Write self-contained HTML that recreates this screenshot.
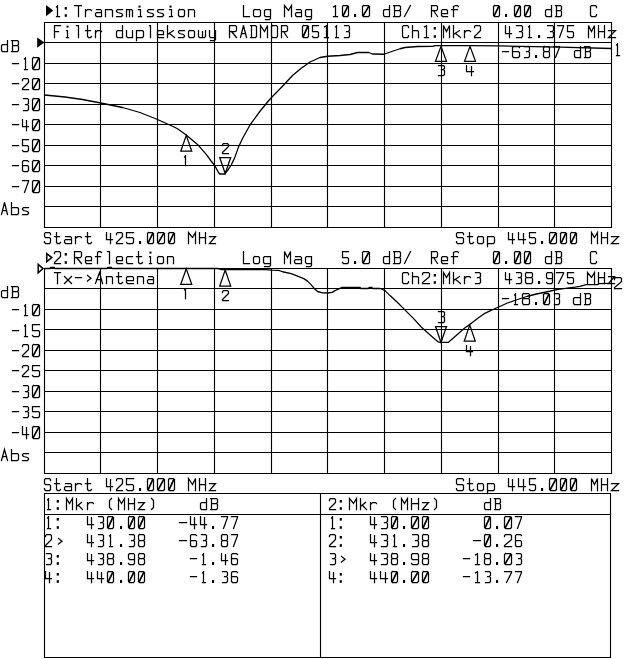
<!DOCTYPE html>
<html><head><meta charset="utf-8"><title>Network analyzer plot</title>
<style>
html,body{margin:0;padding:0;background:#fff}
body{width:640px;height:659px;overflow:hidden;font-family:"Liberation Mono",monospace}
svg{display:block}
.g{fill:none;stroke:#000;stroke-width:1.12}
.t{fill:none;stroke:#000;stroke-width:1.3;stroke-linejoin:round}
.m{fill:none;stroke:#000;stroke-width:1.25;stroke-linejoin:miter}
.s{fill:none;stroke:#000;stroke-width:1.25;stroke-linecap:square;stroke-linejoin:miter}
.h{fill:none;stroke:#000;stroke-width:1.5;stroke-linejoin:miter}
.z{fill:none;stroke:#000;stroke-width:1.7;stroke-linecap:butt}
.f{fill:#000;stroke:none}
.x text{font-family:"Liberation Mono",monospace;font-size:17px;fill:#000;fill-opacity:0;stroke:none}
</style></head><body>
<svg width="640" height="659" viewBox="0 0 640 659">
<rect width="640" height="659" fill="#fff"/>
<path class="g" d="M44.0 22.5 H612.0 M44.0 42.5 H612.0 M44.0 63.5 H612.0 M44.0 83.5 H612.0 M44.0 104.5 H612.0 M44.0 124.5 H612.0 M44.0 145.5 H612.0 M44.0 165.5 H612.0 M44.0 186.5 H612.0 M44.0 206.5 H612.0 M44.0 227.5 H612.0 M44.5 22.0 V228.0 M100.5 22.0 V228.0 M157.5 22.0 V228.0 M214.5 22.0 V228.0 M271.5 22.0 V228.0 M327.5 22.0 V228.0 M384.5 22.0 V228.0 M441.5 22.0 V228.0 M498.5 22.0 V228.0 M554.5 22.0 V228.0 M611.5 22.0 V228.0 M44.0 268.5 H612.0 M44.0 288.5 H612.0 M44.0 309.5 H612.0 M44.0 329.5 H612.0 M44.0 350.5 H612.0 M44.0 370.5 H612.0 M44.0 391.5 H612.0 M44.0 411.5 H612.0 M44.0 432.5 H612.0 M44.0 452.5 H612.0 M44.0 473.5 H612.0 M44.5 268.0 V474.0 M100.5 268.0 V474.0 M157.5 268.0 V474.0 M214.5 268.0 V474.0 M271.5 268.0 V474.0 M327.5 268.0 V474.0 M384.5 268.0 V474.0 M441.5 268.0 V474.0 M498.5 268.0 V474.0 M554.5 268.0 V474.0 M611.5 268.0 V474.0 M44 493.5 H611 M44 514.5 H611 M44 657.5 H611 M44.5 493 V658 M320.5 493 V658 M610.5 493 V658"/>
<path class="t" d="M44.5 95 L65 97 L82.5 99.5 L100.75 103 L122.5 107.5 L140 112.5 L157.5 119.5 L172.5 126.25 L177.5 128.75 L186.25 135 L197.5 144.4 L206.25 154.4 L211.25 161.25 L214.75 165.5 L218.1 171.9 L219.75 174 L224.75 174 L227.5 170.6 L231.25 165 L235 156.9 L238.1 148.1 L242.5 138.5 L250 125 L260 111.25 L270.3 98.75 L282.5 86.25 L292.5 75.5 L301.25 68.25 L310 62 L320 57.5 L327.5 56.25 L340 55.5 L350 54.5 L357.5 52.5 L368.75 52.5 L372.5 54 L383.75 54.25 L392.5 51.25 L400 48.75 L405 47.5 L417.5 46.5 L433.5 46.4 L434.5 45.6 L470 45.6 L500 45.9 L560 47.2 L611.5 48.5"/>
<path class="t" d="M44.5 268.5 L50 268.5 L50.6 267.5 L54.4 267.5 L55 268.5 L107 268.5 L107.6 267.5 L111.4 267.5 L112 268.5 L218 268.5 L221.5 269.5 L262 269.5 L266.25 269.7 L271.25 270.2 L278.75 270.4 L282.5 271.75 L291.25 273.6 L297.5 276.1 L303.75 278.6 L307.5 281.1 L311.25 284.9 L315 289.25 L317.5 291.5 L322.5 292.8 L327.5 293 L332 292.4 L335 290.6 L338.75 289 L341.5 287.5 L360 287.5 L361 288.5 L368.4 288.5 L369 287.5 L372 287.5 L372.6 288.5 L380 288.5 L381.5 289 L385 290.6 L390 295.6 L397.8 302.8 L405.6 310.6 L413.4 318.4 L421.25 327 L429 334 L435.3 339.5 L438.4 341.9 L440 342.4 L448.2 342.4 L452.5 338.75 L458.75 333.3 L465 327.8 L469.7 324.6 L477.5 318.6 L483.75 313.9 L490 310.8 L497.5 307.5 L507.5 303 L517.5 299.5 L527.5 296.25 L537.5 293.75 L547.5 291.75 L554.5 290.2 L560 289.2 L567.5 288.1 L575 287.1 L580 286.3 L586.25 284.7 L598 284.5 L599 283.6 L611.5 283.4"/>
<path class="m" d="M186.25 135.4 L180.75 151.2 L191.75 151.2 Z M225.2 173.5 L219.7 157.5 L230.7 157.5 Z M441 46.4 L435.5 61.4 L446.5 61.4 Z M470 46.4 L464.5 61.4 L475.5 61.4 Z M186.25 268.8 L180.75 284.3 L191.75 284.3 Z M225.2 270 L219.7 286 L230.7 286 Z M441 342.5 L435.5 326.5 L446.5 326.5 Z M469.75 325.1 L464.25 341.1 L475.25 341.1 Z"/>
<path class="f" d="M46 5 L53.3 10.6 L46 16.2 Z"/>
<path class="f" d="M37.2 37.4 L44.4 42.5 L37.2 47.8 Z"/>
<path class="h" d="M46.8 253.6 L51.8 257.6 L46.8 261.6 Z"/>
<path class="h" d="M38.2 264.4 L43 268.6 L38.2 272.8 Z"/>
<path class="s" d="M56.5 6.9 L57.5 5.9 M57.5 5.5 L57.5 16.5 M56.5 16.5 L59.5 16.5 M74.5 5.5 L81.5 5.5 M78.5 5.5 L78.5 16.5 M85.5 9.5 L85.5 16.5 M85.5 11.5 L87.5 9.5 L90.5 9.5 L91.5 10.5 M96.5 9.5 L100.5 9.5 L101.5 10.5 L101.5 16.5 M101.5 12.5 L96.5 12.5 L95.5 13.5 L95.5 15.5 L96.5 16.5 L101.5 16.5 M105.5 16.5 L105.5 9.5 L111.5 9.5 L112.5 10.5 L112.5 16.5 M122.5 9.5 L117.5 9.5 L116.5 10.5 L116.5 11.5 L117.5 12.5 L121.5 13.5 L122.5 14.5 L122.5 15.5 L121.5 16.5 L116.5 16.5 M126.5 16.5 L126.5 9.5 L131.5 9.5 L132.5 10.5 L132.5 16.5 M129.5 9.5 L129.5 16.5 M138.5 9.5 L140.5 9.5 L140.5 16.5 M138.5 16.5 L141.5 16.5 M153.5 9.5 L148.5 9.5 L147.5 10.5 L147.5 11.5 L148.5 12.5 L152.5 13.5 L153.5 14.5 L153.5 15.5 L152.5 16.5 L147.5 16.5 M163.5 9.5 L158.5 9.5 L157.5 10.5 L157.5 11.5 L158.5 12.5 L162.5 13.5 L163.5 14.5 L163.5 15.5 L162.5 16.5 L157.5 16.5 M169.5 9.5 L171.5 9.5 L171.5 16.5 M169.5 16.5 L172.5 16.5 M179.5 9.5 L183.5 9.5 L184.5 10.5 L184.5 15.5 L183.5 16.5 L179.5 16.5 L178.5 15.5 L178.5 10.5 L179.5 9.5 M188.5 16.5 L188.5 9.5 L193.5 9.5 L194.5 10.5 L194.5 16.5 M243.5 5.5 L243.5 16.5 L249.5 16.5 M254.5 9.5 L259.5 9.5 L260.5 10.5 L260.5 15.5 L259.5 16.5 L254.5 16.5 L253.5 15.5 L253.5 10.5 L254.5 9.5 M270.5 9.5 L265.5 9.5 L264.5 10.5 L264.5 15.5 L265.5 16.5 L270.5 16.5 M270.5 9.5 L270.5 18.5 L269.5 19.5 L265.5 19.5 M284.5 16.5 L284.5 5.5 L288.5 10.5 L291.5 5.5 L291.5 16.5 M296.5 9.5 L300.5 9.5 L301.5 10.5 L301.5 16.5 M301.5 12.5 L296.5 12.5 L295.5 13.5 L295.5 15.5 L296.5 16.5 L301.5 16.5 M311.5 9.5 L306.5 9.5 L305.5 10.5 L305.5 15.5 L306.5 16.5 L311.5 16.5 M311.5 9.5 L311.5 18.5 L310.5 19.5 L306.5 19.5 M333.5 6.9 L335.5 5.9 M335.5 5.5 L335.5 16.5 M333.5 16.5 L337.5 16.5 M343.5 5.5 L347.5 5.5 L348.5 6.5 L348.5 15.5 L347.5 16.5 L343.5 16.5 L342.5 15.5 L342.5 6.5 L343.5 5.5 M363.5 5.5 L368.5 5.5 L369.5 6.5 L369.5 15.5 L368.5 16.5 L363.5 16.5 L362.5 15.5 L362.5 6.5 L363.5 5.5 M389.5 5.5 L389.5 16.5 M389.5 9.5 L384.5 9.5 L383.5 10.5 L383.5 15.5 L384.5 16.5 L389.5 16.5 M393.5 5.5 L399.5 5.5 L400.5 6.5 L400.5 9.5 L399.5 10.5 L394.5 10.5 M399.5 10.5 L400.5 11.5 L400.5 15.5 L399.5 16.5 L393.5 16.5 M394.5 5.5 L394.5 16.5 M404.5 16.5 L410.5 5.5 M431.5 16.5 L431.5 5.5 L436.5 5.5 L437.5 6.5 L437.5 9.5 L436.5 10.5 L431.5 10.5 M433.5 10.5 L437.5 16.5 M441.5 13.5 L447.5 13.5 L447.5 10.5 L446.5 9.5 L442.5 9.5 L441.5 10.5 L441.5 15.5 L442.5 16.5 L447.5 16.5 M458.5 6.5 L457.5 5.5 L455.5 5.5 L453.5 6.5 L453.5 16.5 M451.5 9.5 L457.5 9.5 M494.5 5.5 L498.5 5.5 L499.5 6.5 L499.5 15.5 L498.5 16.5 L494.5 16.5 L493.5 15.5 L493.5 6.5 L494.5 5.5 M515.5 5.5 L519.5 5.5 L520.5 6.5 L520.5 15.5 L519.5 16.5 L515.5 16.5 L514.5 15.5 L514.5 6.5 L515.5 5.5 M525.5 5.5 L529.5 5.5 L530.5 6.5 L530.5 15.5 L529.5 16.5 L525.5 16.5 L524.5 15.5 L524.5 6.5 L525.5 5.5 M551.5 5.5 L551.5 16.5 M551.5 9.5 L546.5 9.5 L545.5 10.5 L545.5 15.5 L546.5 16.5 L551.5 16.5 M555.5 5.5 L560.5 5.5 L561.5 6.5 L561.5 9.5 L560.5 10.5 L556.5 10.5 M560.5 10.5 L561.5 11.5 L561.5 15.5 L560.5 16.5 L555.5 16.5 M556.5 5.5 L556.5 16.5 M596.5 7.5 L596.5 6.5 L595.5 5.5 L591.5 5.5 L590.5 6.5 L590.5 15.5 L591.5 16.5 L595.5 16.5 L596.5 15.5 L596.5 14.5 M60.5 25.5 L54.5 25.5 L54.5 37.5 M54.5 31.5 L58.5 31.5 M66.5 30.5 L67.5 30.5 L67.5 37.5 M66.5 37.5 L68.5 37.5 M76.5 25.5 L78.5 25.5 L78.5 37.5 M87.5 25.5 L87.5 36.5 L88.5 37.5 L90.5 37.5 L91.5 36.5 M85.5 30.5 L90.5 30.5 M95.5 30.5 L95.5 37.5 M95.5 32.5 L97.5 30.5 L100.5 30.5 L101.5 31.5 M122.5 25.5 L122.5 37.5 M122.5 30.5 L117.5 30.5 L116.5 31.5 L116.5 36.5 L117.5 37.5 L122.5 37.5 M126.5 30.5 L126.5 36.5 L127.5 37.5 L132.5 37.5 M132.5 30.5 L132.5 37.5 M136.5 30.5 L136.5 40.5 M136.5 30.5 L142.5 30.5 L143.5 31.5 L143.5 36.5 L142.5 37.5 L136.5 37.5 M149.5 25.5 L150.5 25.5 L150.5 37.5 M157.5 34.5 L163.5 34.5 L163.5 31.5 L162.5 30.5 L158.5 30.5 L157.5 31.5 L157.5 36.5 L158.5 37.5 L163.5 37.5 M167.5 25.5 L167.5 37.5 M173.5 30.5 L167.5 34.5 M169.5 33.5 L174.5 37.5 M184.5 30.5 L179.5 30.5 L178.5 31.5 L178.5 32.5 L179.5 33.5 L183.5 34.5 L184.5 35.5 L184.5 36.5 L183.5 37.5 L178.5 37.5 M189.5 30.5 L193.5 30.5 L194.5 31.5 L194.5 36.5 L193.5 37.5 L189.5 37.5 L188.5 36.5 L188.5 31.5 L189.5 30.5 M198.5 30.5 L198.5 36.5 L199.5 37.5 L204.5 37.5 L205.5 36.5 L205.5 30.5 M202.5 31.5 L202.5 37.5 M209.5 30.5 L209.5 36.5 L210.5 37.5 L215.5 37.5 M215.5 30.5 L215.5 39.5 L214.5 40.5 L210.5 40.5 M229.5 37.5 L229.5 25.5 L235.5 25.5 L236.5 26.5 L236.5 30.5 L235.5 31.5 L229.5 31.5 M231.5 31.5 L236.5 37.5 M240.5 37.5 L243.5 25.5 L246.5 37.5 M241.5 33.5 L245.5 33.5 M250.5 25.5 L255.5 25.5 L256.5 26.5 L256.5 36.5 L255.5 37.5 L250.5 37.5 M251.5 25.5 L251.5 37.5 M260.5 37.5 L260.5 25.5 L264.5 31.5 L267.5 25.5 L267.5 37.5 M272.5 25.5 L276.5 25.5 L277.5 26.5 L277.5 36.5 L276.5 37.5 L272.5 37.5 L271.5 36.5 L271.5 26.5 L272.5 25.5 M281.5 37.5 L281.5 25.5 L286.5 25.5 L287.5 26.5 L287.5 30.5 L286.5 31.5 L281.5 31.5 M283.5 31.5 L287.5 37.5 M303.5 25.5 L307.5 25.5 L308.5 26.5 L308.5 36.5 L307.5 37.5 L303.5 37.5 L302.5 36.5 L302.5 26.5 L303.5 25.5 M318.5 25.5 L312.5 25.5 L312.5 31.5 L317.5 31.5 L318.5 32.5 L318.5 36.5 L317.5 37.5 L313.5 37.5 L312.5 36.5 M324.5 26.9 L326.5 25.9 M326.5 25.5 L326.5 37.5 M324.5 37.5 L328.5 37.5 M335.5 26.9 L336.5 25.9 M336.5 25.5 L336.5 37.5 M335.5 37.5 L338.5 37.5 M344.5 25.5 L348.5 25.5 L349.5 26.5 L349.5 30.5 L348.5 31.5 L346.5 31.5 M348.5 31.5 L349.5 32.5 L349.5 36.5 L348.5 37.5 L344.5 37.5 M408.5 27.5 L408.5 26.5 L407.5 25.5 L403.5 25.5 L402.5 26.5 L402.5 36.5 L403.5 37.5 L407.5 37.5 L408.5 36.5 L408.5 35.5 M412.5 25.5 L412.5 37.5 M412.5 30.5 L417.5 30.5 L418.5 31.5 L418.5 37.5 M424.5 26.9 L426.5 25.9 M426.5 25.5 L426.5 37.5 M424.5 37.5 L428.5 37.5 M443.5 37.5 L443.5 25.5 L446.5 31.5 L449.5 25.5 L449.5 37.5 M453.5 25.5 L453.5 37.5 M459.5 30.5 L453.5 34.5 M455.5 33.5 L460.5 37.5 M464.5 30.5 L464.5 37.5 M464.5 32.5 L466.5 30.5 L469.5 30.5 L470.5 31.5 M474.5 27.5 L474.5 26.5 L475.5 25.5 L479.5 25.5 L480.5 26.5 L480.5 30.5 L479.5 31.5 L474.5 36.5 L474.5 37.5 L480.5 37.5 M505.5 25.5 L505.5 33.5 L511.5 33.5 M509.5 26.5 L509.5 37.5 M516.5 25.5 L521.5 25.5 L522.5 26.5 L522.5 30.5 L521.5 31.5 L519.5 31.5 M521.5 31.5 L522.5 32.5 L522.5 36.5 L521.5 37.5 L516.5 37.5 M528.5 26.9 L529.5 25.9 M529.5 25.5 L529.5 37.5 M528.5 37.5 L531.5 37.5 M547.5 25.5 L552.5 25.5 L553.5 26.5 L553.5 30.5 L552.5 31.5 L550.5 31.5 M552.5 31.5 L553.5 32.5 L553.5 36.5 L552.5 37.5 L547.5 37.5 M557.5 25.5 L563.5 25.5 L563.5 26.5 L559.5 37.5 M573.5 25.5 L567.5 25.5 L567.5 31.5 L572.5 31.5 L573.5 32.5 L573.5 36.5 L572.5 37.5 L568.5 37.5 L567.5 36.5 M588.5 37.5 L588.5 25.5 L591.5 31.5 L594.5 25.5 L594.5 37.5 M598.5 25.5 L598.5 37.5 M604.5 25.5 L604.5 37.5 M598.5 31.5 L604.5 31.5 M608.5 30.5 L615.5 30.5 L608.5 37.5 L615.5 37.5 M502.5 51.5 L508.5 51.5 M519.5 47.5 L518.5 46.5 L513.5 46.5 L512.5 47.5 L512.5 56.5 L513.5 57.5 L518.5 57.5 L519.5 56.5 L519.5 52.5 L518.5 51.5 L512.5 51.5 M524.5 46.5 L528.5 46.5 L529.5 47.5 L529.5 50.5 L528.5 51.5 L526.5 51.5 M528.5 51.5 L529.5 52.5 L529.5 56.5 L528.5 57.5 L524.5 57.5 M544.5 46.5 L548.5 46.5 L549.5 47.5 L549.5 50.5 L548.5 51.5 L549.5 52.5 L549.5 56.5 L548.5 57.5 L544.5 57.5 L543.5 56.5 L543.5 52.5 L544.5 51.5 L543.5 50.5 L543.5 47.5 L544.5 46.5 M544.5 51.5 L548.5 51.5 M553.5 46.5 L559.5 46.5 L559.5 47.5 L555.5 57.5 M580.5 46.5 L580.5 57.5 M580.5 50.5 L575.5 50.5 L574.5 51.5 L574.5 56.5 L575.5 57.5 L580.5 57.5 M584.5 46.5 L589.5 46.5 L590.5 47.5 L590.5 50.5 L589.5 51.5 L585.5 51.5 M589.5 51.5 L590.5 52.5 L590.5 56.5 L589.5 57.5 L584.5 57.5 M585.5 46.5 L585.5 57.5 M616.5 44.9 L617.5 43.9 M617.5 43.5 L617.5 55.5 M616.5 55.5 L619.5 55.5 M7.5 40.5 L7.5 51.5 M7.5 44.5 L2.5 44.5 L1.5 45.5 L1.5 50.5 L2.5 51.5 L7.5 51.5 M11.5 40.5 L17.5 40.5 L18.5 41.5 L18.5 44.5 L17.5 45.5 L12.5 45.5 M17.5 45.5 L18.5 46.5 L18.5 50.5 L17.5 51.5 L11.5 51.5 M12.5 40.5 L12.5 51.5 M12.5 63.5 L18.5 63.5 M24.5 58.9 L25.5 57.9 M25.5 57.5 L25.5 69.5 M24.5 69.5 L27.5 69.5 M33.5 57.5 L38.5 57.5 L39.5 58.5 L39.5 68.5 L38.5 69.5 L33.5 69.5 L32.5 68.5 L32.5 58.5 L33.5 57.5 M12.5 83.5 L18.5 83.5 M22.5 80.5 L22.5 79.5 L23.5 78.5 L27.5 78.5 L28.5 79.5 L28.5 82.5 L27.5 83.5 L22.5 88.5 L22.5 89.5 L28.5 89.5 M33.5 78.5 L38.5 78.5 L39.5 79.5 L39.5 88.5 L38.5 89.5 L33.5 89.5 L32.5 88.5 L32.5 79.5 L33.5 78.5 M12.5 104.5 L18.5 104.5 M23.5 98.5 L27.5 98.5 L28.5 99.5 L28.5 103.5 L27.5 104.5 L25.5 104.5 M27.5 104.5 L28.5 105.5 L28.5 109.5 L27.5 110.5 L23.5 110.5 M33.5 98.5 L38.5 98.5 L39.5 99.5 L39.5 109.5 L38.5 110.5 L33.5 110.5 L32.5 109.5 L32.5 99.5 L33.5 98.5 M12.5 124.5 L18.5 124.5 M22.5 119.5 L22.5 126.5 L28.5 126.5 M26.5 120.5 L26.5 130.5 M33.5 119.5 L38.5 119.5 L39.5 120.5 L39.5 129.5 L38.5 130.5 L33.5 130.5 L32.5 129.5 L32.5 120.5 L33.5 119.5 M12.5 145.5 L18.5 145.5 M28.5 139.5 L22.5 139.5 L22.5 145.5 L27.5 145.5 L28.5 146.5 L28.5 150.5 L27.5 151.5 L23.5 151.5 L22.5 150.5 M33.5 139.5 L38.5 139.5 L39.5 140.5 L39.5 150.5 L38.5 151.5 L33.5 151.5 L32.5 150.5 L32.5 140.5 L33.5 139.5 M12.5 165.5 L18.5 165.5 M28.5 161.5 L27.5 160.5 L23.5 160.5 L22.5 161.5 L22.5 170.5 L23.5 171.5 L27.5 171.5 L28.5 170.5 L28.5 166.5 L27.5 165.5 L22.5 165.5 M33.5 160.5 L38.5 160.5 L39.5 161.5 L39.5 170.5 L38.5 171.5 L33.5 171.5 L32.5 170.5 L32.5 161.5 L33.5 160.5 M12.5 186.5 L18.5 186.5 M22.5 180.5 L28.5 180.5 L28.5 181.5 L24.5 192.5 M33.5 180.5 L38.5 180.5 L39.5 181.5 L39.5 191.5 L38.5 192.5 L33.5 192.5 L32.5 191.5 L32.5 181.5 L33.5 180.5 M1.5 214.5 L4.5 202.5 L7.5 214.5 M2.5 210.5 L6.5 210.5 M11.5 202.5 L11.5 214.5 M11.5 207.5 L17.5 207.5 L18.5 208.5 L18.5 213.5 L17.5 214.5 L11.5 214.5 M28.5 207.5 L23.5 207.5 L22.5 208.5 L22.5 209.5 L23.5 210.5 L27.5 211.5 L28.5 212.5 L28.5 213.5 L27.5 214.5 L22.5 214.5 M50.5 234.5 L50.5 233.5 L49.5 232.5 L45.5 232.5 L44.5 233.5 L44.5 236.5 L45.5 237.5 L49.5 237.5 L50.5 238.5 L50.5 242.5 L49.5 243.5 L45.5 243.5 L44.5 242.5 L44.5 241.5 M56.5 232.5 L56.5 242.5 L57.5 243.5 L59.5 243.5 L60.5 242.5 M54.5 236.5 L59.5 236.5 M65.5 236.5 L70.5 236.5 L71.5 237.5 L71.5 243.5 M71.5 239.5 L65.5 239.5 L64.5 240.5 L64.5 242.5 L65.5 243.5 L71.5 243.5 M75.5 236.5 L75.5 243.5 M75.5 238.5 L77.5 236.5 L80.5 236.5 L81.5 237.5 M87.5 232.5 L87.5 242.5 L88.5 243.5 L90.5 243.5 L91.5 242.5 M85.5 236.5 L90.5 236.5 M106.5 232.5 L106.5 239.5 L112.5 239.5 M110.5 233.5 L110.5 243.5 M116.5 234.5 L116.5 233.5 L117.5 232.5 L121.5 232.5 L122.5 233.5 L122.5 236.5 L121.5 237.5 L116.5 242.5 L116.5 243.5 L122.5 243.5 M133.5 232.5 L126.5 232.5 L126.5 237.5 L132.5 237.5 L133.5 238.5 L133.5 242.5 L132.5 243.5 L127.5 243.5 L126.5 242.5 M148.5 232.5 L152.5 232.5 L153.5 233.5 L153.5 242.5 L152.5 243.5 L148.5 243.5 L147.5 242.5 L147.5 233.5 L148.5 232.5 M158.5 232.5 L163.5 232.5 L164.5 233.5 L164.5 242.5 L163.5 243.5 L158.5 243.5 L157.5 242.5 L157.5 233.5 L158.5 232.5 M169.5 232.5 L173.5 232.5 L174.5 233.5 L174.5 242.5 L173.5 243.5 L169.5 243.5 L168.5 242.5 L168.5 233.5 L169.5 232.5 M188.5 243.5 L188.5 232.5 L192.5 237.5 L195.5 232.5 L195.5 243.5 M199.5 232.5 L199.5 243.5 M205.5 232.5 L205.5 243.5 M199.5 237.5 L205.5 237.5 M209.5 236.5 L215.5 236.5 L209.5 243.5 L215.5 243.5 M463.5 234.5 L463.5 233.5 L462.5 232.5 L457.5 232.5 L456.5 233.5 L456.5 236.5 L457.5 237.5 L462.5 237.5 L463.5 238.5 L463.5 242.5 L462.5 243.5 L457.5 243.5 L456.5 242.5 L456.5 241.5 M469.5 232.5 L469.5 242.5 L470.5 243.5 L472.5 243.5 L473.5 242.5 M467.5 236.5 L472.5 236.5 M478.5 236.5 L482.5 236.5 L483.5 237.5 L483.5 242.5 L482.5 243.5 L478.5 243.5 L477.5 242.5 L477.5 237.5 L478.5 236.5 M487.5 236.5 L487.5 246.5 M487.5 236.5 L493.5 236.5 L494.5 237.5 L494.5 242.5 L493.5 243.5 L487.5 243.5 M508.5 232.5 L508.5 239.5 L514.5 239.5 M512.5 233.5 L512.5 243.5 M518.5 232.5 L518.5 239.5 L525.5 239.5 M523.5 233.5 L523.5 243.5 M535.5 232.5 L529.5 232.5 L529.5 237.5 L534.5 237.5 L535.5 238.5 L535.5 242.5 L534.5 243.5 L530.5 243.5 L529.5 242.5 M550.5 232.5 L555.5 232.5 L556.5 233.5 L556.5 242.5 L555.5 243.5 L550.5 243.5 L549.5 242.5 L549.5 233.5 L550.5 232.5 M561.5 232.5 L565.5 232.5 L566.5 233.5 L566.5 242.5 L565.5 243.5 L561.5 243.5 L560.5 242.5 L560.5 233.5 L561.5 232.5 M571.5 232.5 L575.5 232.5 L576.5 233.5 L576.5 242.5 L575.5 243.5 L571.5 243.5 L570.5 242.5 L570.5 233.5 L571.5 232.5 M591.5 243.5 L591.5 232.5 L594.5 237.5 L597.5 232.5 L597.5 243.5 M601.5 232.5 L601.5 243.5 M607.5 232.5 L607.5 243.5 M601.5 237.5 L607.5 237.5 M611.5 236.5 L618.5 236.5 L611.5 243.5 L618.5 243.5 M54.5 253.5 L54.5 252.5 L55.5 251.5 L59.5 251.5 L60.5 252.5 L60.5 256.5 L59.5 257.5 L54.5 262.5 L54.5 263.5 L60.5 263.5 M74.5 263.5 L74.5 251.5 L80.5 251.5 L81.5 252.5 L81.5 256.5 L80.5 257.5 L74.5 257.5 M76.5 257.5 L81.5 263.5 M85.5 260.5 L91.5 260.5 L91.5 257.5 L90.5 256.5 L86.5 256.5 L85.5 257.5 L85.5 262.5 L86.5 263.5 L91.5 263.5 M101.5 252.5 L100.5 251.5 L98.5 251.5 L97.5 252.5 L97.5 263.5 M95.5 256.5 L100.5 256.5 M107.5 251.5 L109.5 251.5 L109.5 263.5 M116.5 260.5 L122.5 260.5 L122.5 257.5 L121.5 256.5 L117.5 256.5 L116.5 257.5 L116.5 262.5 L117.5 263.5 L122.5 263.5 M132.5 256.5 L127.5 256.5 L126.5 257.5 L126.5 262.5 L127.5 263.5 L132.5 263.5 M138.5 251.5 L138.5 262.5 L139.5 263.5 L141.5 263.5 L142.5 262.5 M136.5 256.5 L141.5 256.5 M149.5 256.5 L150.5 256.5 L150.5 263.5 M149.5 263.5 L151.5 263.5 M158.5 256.5 L162.5 256.5 L163.5 257.5 L163.5 262.5 L162.5 263.5 L158.5 263.5 L157.5 262.5 L157.5 257.5 L158.5 256.5 M167.5 263.5 L167.5 256.5 L172.5 256.5 L173.5 257.5 L173.5 263.5 M243.5 251.5 L243.5 263.5 L249.5 263.5 M254.5 256.5 L258.5 256.5 L259.5 257.5 L259.5 262.5 L258.5 263.5 L254.5 263.5 L253.5 262.5 L253.5 257.5 L254.5 256.5 M270.5 256.5 L264.5 256.5 L263.5 257.5 L263.5 262.5 L264.5 263.5 L270.5 263.5 M270.5 256.5 L270.5 265.5 L269.5 266.5 L264.5 266.5 M284.5 263.5 L284.5 251.5 L287.5 257.5 L290.5 251.5 L290.5 263.5 M295.5 256.5 L300.5 256.5 L301.5 257.5 L301.5 263.5 M301.5 259.5 L295.5 259.5 L294.5 260.5 L294.5 262.5 L295.5 263.5 L301.5 263.5 M311.5 256.5 L306.5 256.5 L305.5 257.5 L305.5 262.5 L306.5 263.5 L311.5 263.5 M311.5 256.5 L311.5 265.5 L310.5 266.5 L306.5 266.5 M348.5 251.5 L342.5 251.5 L342.5 257.5 L347.5 257.5 L348.5 258.5 L348.5 262.5 L347.5 263.5 L343.5 263.5 L342.5 262.5 M363.5 251.5 L368.5 251.5 L369.5 252.5 L369.5 262.5 L368.5 263.5 L363.5 263.5 L362.5 262.5 L362.5 252.5 L363.5 251.5 M389.5 251.5 L389.5 263.5 M389.5 256.5 L384.5 256.5 L383.5 257.5 L383.5 262.5 L384.5 263.5 L389.5 263.5 M393.5 251.5 L399.5 251.5 L400.5 252.5 L400.5 256.5 L399.5 257.5 L394.5 257.5 M399.5 257.5 L400.5 258.5 L400.5 262.5 L399.5 263.5 L393.5 263.5 M394.5 251.5 L394.5 263.5 M404.5 263.5 L410.5 251.5 M431.5 263.5 L431.5 251.5 L436.5 251.5 L437.5 252.5 L437.5 256.5 L436.5 257.5 L431.5 257.5 M433.5 257.5 L437.5 263.5 M441.5 260.5 L447.5 260.5 L447.5 257.5 L446.5 256.5 L442.5 256.5 L441.5 257.5 L441.5 262.5 L442.5 263.5 L447.5 263.5 M458.5 252.5 L457.5 251.5 L455.5 251.5 L453.5 252.5 L453.5 263.5 M451.5 256.5 L457.5 256.5 M494.5 251.5 L498.5 251.5 L499.5 252.5 L499.5 262.5 L498.5 263.5 L494.5 263.5 L493.5 262.5 L493.5 252.5 L494.5 251.5 M515.5 251.5 L519.5 251.5 L520.5 252.5 L520.5 262.5 L519.5 263.5 L515.5 263.5 L514.5 262.5 L514.5 252.5 L515.5 251.5 M525.5 251.5 L529.5 251.5 L530.5 252.5 L530.5 262.5 L529.5 263.5 L525.5 263.5 L524.5 262.5 L524.5 252.5 L525.5 251.5 M551.5 251.5 L551.5 263.5 M551.5 256.5 L546.5 256.5 L545.5 257.5 L545.5 262.5 L546.5 263.5 L551.5 263.5 M555.5 251.5 L560.5 251.5 L561.5 252.5 L561.5 256.5 L560.5 257.5 L556.5 257.5 M560.5 257.5 L561.5 258.5 L561.5 262.5 L560.5 263.5 L555.5 263.5 M556.5 251.5 L556.5 263.5 M596.5 253.5 L596.5 252.5 L595.5 251.5 L591.5 251.5 L590.5 252.5 L590.5 262.5 L591.5 263.5 L595.5 263.5 L596.5 262.5 L596.5 261.5 M54.5 272.5 L60.5 272.5 M57.5 272.5 L57.5 283.5 M64.5 276.5 L71.5 283.5 M71.5 276.5 L64.5 283.5 M75.5 277.5 L81.5 277.5 M87.5 275.5 L91 278.25 L87.5 281 M95.5 283.5 L99.5 272.5 L102.5 283.5 M96.5 279.5 L101.5 279.5 M106.5 283.5 L106.5 276.5 L111.5 276.5 L112.5 277.5 L112.5 283.5 M118.5 272.5 L118.5 282.5 L119.5 283.5 L121.5 283.5 L122.5 282.5 M116.5 276.5 L121.5 276.5 M126.5 280.5 L133.5 280.5 L133.5 277.5 L132.5 276.5 L127.5 276.5 L126.5 277.5 L126.5 282.5 L127.5 283.5 L133.5 283.5 M137.5 283.5 L137.5 276.5 L142.5 276.5 L143.5 277.5 L143.5 283.5 M148.5 276.5 L152.5 276.5 L153.5 277.5 L153.5 283.5 M153.5 279.5 L148.5 279.5 L147.5 280.5 L147.5 282.5 L148.5 283.5 L153.5 283.5 M408.5 274.5 L408.5 273.5 L407.5 272.5 L403.5 272.5 L402.5 273.5 L402.5 282.5 L403.5 283.5 L407.5 283.5 L408.5 282.5 L408.5 281.5 M412.5 272.5 L412.5 283.5 M412.5 276.5 L417.5 276.5 L418.5 277.5 L418.5 283.5 M422.5 274.5 L422.5 273.5 L423.5 272.5 L428.5 272.5 L429.5 273.5 L429.5 276.5 L428.5 277.5 L422.5 282.5 L422.5 283.5 L429.5 283.5 M443.5 283.5 L443.5 272.5 L446.5 277.5 L449.5 272.5 L449.5 283.5 M453.5 272.5 L453.5 283.5 M459.5 276.5 L453.5 280.5 M455.5 279.5 L460.5 283.5 M464.5 276.5 L464.5 283.5 M464.5 278.5 L466.5 276.5 L469.5 276.5 L470.5 277.5 M475.5 272.5 L479.5 272.5 L480.5 273.5 L480.5 276.5 L479.5 277.5 L477.5 277.5 M479.5 277.5 L480.5 278.5 L480.5 282.5 L479.5 283.5 L475.5 283.5 M505.5 272.5 L505.5 279.5 L511.5 279.5 M509.5 273.5 L509.5 283.5 M516.5 272.5 L520.5 272.5 L521.5 273.5 L521.5 276.5 L520.5 277.5 L518.5 277.5 M520.5 277.5 L521.5 278.5 L521.5 282.5 L520.5 283.5 L516.5 283.5 M526.5 272.5 L531.5 272.5 L532.5 273.5 L532.5 276.5 L531.5 277.5 L532.5 278.5 L532.5 282.5 L531.5 283.5 L526.5 283.5 L525.5 282.5 L525.5 278.5 L526.5 277.5 L525.5 276.5 L525.5 273.5 L526.5 272.5 M526.5 277.5 L531.5 277.5 M546.5 282.5 L547.5 283.5 L551.5 283.5 L552.5 282.5 L552.5 273.5 L551.5 272.5 L547.5 272.5 L546.5 273.5 L546.5 277.5 L547.5 278.5 L552.5 278.5 M556.5 272.5 L563.5 272.5 L563.5 273.5 L558.5 283.5 M573.5 272.5 L567.5 272.5 L567.5 277.5 L572.5 277.5 L573.5 278.5 L573.5 282.5 L572.5 283.5 L568.5 283.5 L567.5 282.5 M587.5 283.5 L587.5 272.5 L591.5 277.5 L594.5 272.5 L594.5 283.5 M598.5 272.5 L598.5 283.5 M604.5 272.5 L604.5 283.5 M598.5 277.5 L604.5 277.5 M608.5 276.5 L614.5 276.5 L608.5 283.5 L614.5 283.5 M502.5 298.5 L508.5 298.5 M514.5 294.9 L515.5 293.9 M515.5 293.5 L515.5 304.5 M514.5 304.5 L517.5 304.5 M523.5 293.5 L528.5 293.5 L529.5 294.5 L529.5 297.5 L528.5 298.5 L529.5 299.5 L529.5 303.5 L528.5 304.5 L523.5 304.5 L522.5 303.5 L522.5 299.5 L523.5 298.5 L522.5 297.5 L522.5 294.5 L523.5 293.5 M523.5 298.5 L528.5 298.5 M544.5 293.5 L548.5 293.5 L549.5 294.5 L549.5 303.5 L548.5 304.5 L544.5 304.5 L543.5 303.5 L543.5 294.5 L544.5 293.5 M554.5 293.5 L558.5 293.5 L559.5 294.5 L559.5 297.5 L558.5 298.5 L556.5 298.5 M558.5 298.5 L559.5 299.5 L559.5 303.5 L558.5 304.5 L554.5 304.5 M580.5 293.5 L580.5 304.5 M580.5 297.5 L574.5 297.5 L573.5 298.5 L573.5 303.5 L574.5 304.5 L580.5 304.5 M584.5 293.5 L589.5 293.5 L590.5 294.5 L590.5 297.5 L589.5 298.5 L585.5 298.5 M589.5 298.5 L590.5 299.5 L590.5 303.5 L589.5 304.5 L584.5 304.5 M585.5 293.5 L585.5 304.5 M614.5 279.5 L614.5 278.5 L615.5 277.5 L620.5 277.5 L621.5 278.5 L621.5 281.5 L620.5 282.5 L614.5 287.5 L614.5 288.5 L621.5 288.5 M7.5 286.5 L7.5 297.5 M7.5 290.5 L2.5 290.5 L1.5 291.5 L1.5 296.5 L2.5 297.5 L7.5 297.5 M11.5 286.5 L17.5 286.5 L18.5 287.5 L18.5 290.5 L17.5 291.5 L12.5 291.5 M17.5 291.5 L18.5 292.5 L18.5 296.5 L17.5 297.5 L11.5 297.5 M12.5 286.5 L12.5 297.5 M12.5 309.5 L18.5 309.5 M24.5 305.9 L25.5 304.9 M25.5 304.5 L25.5 315.5 M24.5 315.5 L27.5 315.5 M33.5 304.5 L38.5 304.5 L39.5 305.5 L39.5 314.5 L38.5 315.5 L33.5 315.5 L32.5 314.5 L32.5 305.5 L33.5 304.5 M12.5 330.5 L18.5 330.5 M24.5 325.9 L25.5 324.9 M25.5 324.5 L25.5 336.5 M24.5 336.5 L27.5 336.5 M39.5 324.5 L32.5 324.5 L32.5 330.5 L38.5 330.5 L39.5 331.5 L39.5 335.5 L38.5 336.5 L33.5 336.5 L32.5 335.5 M12.5 350.5 L18.5 350.5 M22.5 346.5 L22.5 345.5 L23.5 344.5 L27.5 344.5 L28.5 345.5 L28.5 349.5 L27.5 350.5 L22.5 355.5 L22.5 356.5 L28.5 356.5 M33.5 344.5 L38.5 344.5 L39.5 345.5 L39.5 355.5 L38.5 356.5 L33.5 356.5 L32.5 355.5 L32.5 345.5 L33.5 344.5 M12.5 370.5 L18.5 370.5 M22.5 367.5 L22.5 366.5 L23.5 365.5 L27.5 365.5 L28.5 366.5 L28.5 369.5 L27.5 370.5 L22.5 375.5 L22.5 376.5 L28.5 376.5 M39.5 365.5 L32.5 365.5 L32.5 370.5 L38.5 370.5 L39.5 371.5 L39.5 375.5 L38.5 376.5 L33.5 376.5 L32.5 375.5 M12.5 391.5 L18.5 391.5 M23.5 385.5 L27.5 385.5 L28.5 386.5 L28.5 390.5 L27.5 391.5 L25.5 391.5 M27.5 391.5 L28.5 392.5 L28.5 396.5 L27.5 397.5 L23.5 397.5 M33.5 385.5 L38.5 385.5 L39.5 386.5 L39.5 396.5 L38.5 397.5 L33.5 397.5 L32.5 396.5 L32.5 386.5 L33.5 385.5 M12.5 411.5 L18.5 411.5 M23.5 406.5 L27.5 406.5 L28.5 407.5 L28.5 410.5 L27.5 411.5 L25.5 411.5 M27.5 411.5 L28.5 412.5 L28.5 416.5 L27.5 417.5 L23.5 417.5 M39.5 406.5 L32.5 406.5 L32.5 411.5 L38.5 411.5 L39.5 412.5 L39.5 416.5 L38.5 417.5 L33.5 417.5 L32.5 416.5 M12.5 432.5 L18.5 432.5 M22.5 426.5 L22.5 434.5 L28.5 434.5 M26.5 427.5 L26.5 438.5 M33.5 426.5 L38.5 426.5 L39.5 427.5 L39.5 437.5 L38.5 438.5 L33.5 438.5 L32.5 437.5 L32.5 427.5 L33.5 426.5 M1.5 460.5 L4.5 449.5 L7.5 460.5 M2.5 456.5 L6.5 456.5 M11.5 449.5 L11.5 460.5 M11.5 453.5 L17.5 453.5 L18.5 454.5 L18.5 459.5 L17.5 460.5 L11.5 460.5 M28.5 453.5 L23.5 453.5 L22.5 454.5 L22.5 455.5 L23.5 456.5 L27.5 457.5 L28.5 458.5 L28.5 459.5 L27.5 460.5 L22.5 460.5 M50.5 480.5 L50.5 479.5 L49.5 478.5 L45.5 478.5 L44.5 479.5 L44.5 483.5 L45.5 484.5 L49.5 484.5 L50.5 485.5 L50.5 489.5 L49.5 490.5 L45.5 490.5 L44.5 489.5 L44.5 488.5 M56.5 478.5 L56.5 489.5 L57.5 490.5 L59.5 490.5 L60.5 489.5 M54.5 483.5 L59.5 483.5 M65.5 483.5 L70.5 483.5 L71.5 484.5 L71.5 490.5 M71.5 486.5 L65.5 486.5 L64.5 487.5 L64.5 489.5 L65.5 490.5 L71.5 490.5 M75.5 483.5 L75.5 490.5 M75.5 485.5 L77.5 483.5 L80.5 483.5 L81.5 484.5 M87.5 478.5 L87.5 489.5 L88.5 490.5 L90.5 490.5 L91.5 489.5 M85.5 483.5 L90.5 483.5 M106.5 478.5 L106.5 486.5 L112.5 486.5 M110.5 479.5 L110.5 490.5 M116.5 480.5 L116.5 479.5 L117.5 478.5 L121.5 478.5 L122.5 479.5 L122.5 483.5 L121.5 484.5 L116.5 489.5 L116.5 490.5 L122.5 490.5 M133.5 478.5 L126.5 478.5 L126.5 484.5 L132.5 484.5 L133.5 485.5 L133.5 489.5 L132.5 490.5 L127.5 490.5 L126.5 489.5 M148.5 478.5 L152.5 478.5 L153.5 479.5 L153.5 489.5 L152.5 490.5 L148.5 490.5 L147.5 489.5 L147.5 479.5 L148.5 478.5 M158.5 478.5 L163.5 478.5 L164.5 479.5 L164.5 489.5 L163.5 490.5 L158.5 490.5 L157.5 489.5 L157.5 479.5 L158.5 478.5 M169.5 478.5 L173.5 478.5 L174.5 479.5 L174.5 489.5 L173.5 490.5 L169.5 490.5 L168.5 489.5 L168.5 479.5 L169.5 478.5 M188.5 490.5 L188.5 478.5 L192.5 484.5 L195.5 478.5 L195.5 490.5 M199.5 478.5 L199.5 490.5 M205.5 478.5 L205.5 490.5 M199.5 484.5 L205.5 484.5 M209.5 483.5 L215.5 483.5 L209.5 490.5 L215.5 490.5 M463.5 480.5 L463.5 479.5 L462.5 478.5 L457.5 478.5 L456.5 479.5 L456.5 483.5 L457.5 484.5 L462.5 484.5 L463.5 485.5 L463.5 489.5 L462.5 490.5 L457.5 490.5 L456.5 489.5 L456.5 488.5 M469.5 478.5 L469.5 489.5 L470.5 490.5 L472.5 490.5 L473.5 489.5 M467.5 483.5 L472.5 483.5 M478.5 483.5 L482.5 483.5 L483.5 484.5 L483.5 489.5 L482.5 490.5 L478.5 490.5 L477.5 489.5 L477.5 484.5 L478.5 483.5 M487.5 483.5 L487.5 493.5 M487.5 483.5 L493.5 483.5 L494.5 484.5 L494.5 489.5 L493.5 490.5 L487.5 490.5 M508.5 478.5 L508.5 486.5 L514.5 486.5 M512.5 479.5 L512.5 490.5 M518.5 478.5 L518.5 486.5 L525.5 486.5 M523.5 479.5 L523.5 490.5 M535.5 478.5 L529.5 478.5 L529.5 484.5 L534.5 484.5 L535.5 485.5 L535.5 489.5 L534.5 490.5 L530.5 490.5 L529.5 489.5 M550.5 478.5 L555.5 478.5 L556.5 479.5 L556.5 489.5 L555.5 490.5 L550.5 490.5 L549.5 489.5 L549.5 479.5 L550.5 478.5 M561.5 478.5 L565.5 478.5 L566.5 479.5 L566.5 489.5 L565.5 490.5 L561.5 490.5 L560.5 489.5 L560.5 479.5 L561.5 478.5 M571.5 478.5 L575.5 478.5 L576.5 479.5 L576.5 489.5 L575.5 490.5 L571.5 490.5 L570.5 489.5 L570.5 479.5 L571.5 478.5 M591.5 490.5 L591.5 478.5 L594.5 484.5 L597.5 478.5 L597.5 490.5 M601.5 478.5 L601.5 490.5 M607.5 478.5 L607.5 490.5 M601.5 484.5 L607.5 484.5 M611.5 483.5 L618.5 483.5 L611.5 490.5 L618.5 490.5 M47.5 499.9 L48.5 498.9 M48.5 498.5 L48.5 509.5 M47.5 509.5 L50.5 509.5 M66.5 509.5 L66.5 498.5 L69.5 503.5 L72.5 498.5 L72.5 509.5 M76.5 498.5 L76.5 509.5 M81.5 502.5 L76.5 506.5 M78.5 505.5 L82.5 509.5 M87.5 502.5 L87.5 509.5 M87.5 504.5 L89.5 502.5 L92.5 502.5 L93.5 503.5 M111.5 498.5 L109.5 500.5 L109.5 507.5 L111.5 509.5 M118.5 509.5 L118.5 498.5 L121.5 503.5 L124.5 498.5 L124.5 509.5 M128.5 498.5 L128.5 509.5 M134.5 498.5 L134.5 509.5 M128.5 503.5 L134.5 503.5 M138.5 502.5 L144.5 502.5 L138.5 509.5 L144.5 509.5 M151.5 498.5 L153.5 500.5 L153.5 507.5 L151.5 509.5 M206.5 498.5 L206.5 509.5 M206.5 502.5 L201.5 502.5 L200.5 503.5 L200.5 508.5 L201.5 509.5 L206.5 509.5 M210.5 498.5 L216.5 498.5 L217.5 499.5 L217.5 502.5 L216.5 503.5 L211.5 503.5 M216.5 503.5 L217.5 504.5 L217.5 508.5 L216.5 509.5 L210.5 509.5 M211.5 498.5 L211.5 509.5 M329.5 500.5 L329.5 499.5 L330.5 498.5 L334.5 498.5 L335.5 499.5 L335.5 502.5 L334.5 503.5 L329.5 508.5 L329.5 509.5 L335.5 509.5 M349.5 509.5 L349.5 498.5 L353.5 503.5 L356.5 498.5 L356.5 509.5 M360.5 498.5 L360.5 509.5 M365.5 502.5 L360.5 506.5 M362.5 505.5 L366.5 509.5 M370.5 502.5 L370.5 509.5 M370.5 504.5 L372.5 502.5 L375.5 502.5 L376.5 503.5 M395.5 498.5 L393.5 500.5 L393.5 507.5 L395.5 509.5 M401.5 509.5 L401.5 498.5 L404.5 503.5 L407.5 498.5 L407.5 509.5 M411.5 498.5 L411.5 509.5 M418.5 498.5 L418.5 509.5 M411.5 503.5 L418.5 503.5 M422.5 502.5 L428.5 502.5 L422.5 509.5 L428.5 509.5 M434.5 498.5 L436.5 500.5 L436.5 507.5 L434.5 509.5 M490.5 498.5 L490.5 509.5 M490.5 502.5 L485.5 502.5 L484.5 503.5 L484.5 508.5 L485.5 509.5 L490.5 509.5 M494.5 498.5 L499.5 498.5 L500.5 499.5 L500.5 502.5 L499.5 503.5 L495.5 503.5 M499.5 503.5 L500.5 504.5 L500.5 508.5 L499.5 509.5 L494.5 509.5 M495.5 498.5 L495.5 509.5 M47.5 517.9 L48.5 516.9 M48.5 516.5 L48.5 528.5 M47.5 528.5 L50.5 528.5 M87.5 516.5 L87.5 524.5 L93.5 524.5 M91.5 517.5 L91.5 528.5 M98.5 516.5 L102.5 516.5 L103.5 517.5 L103.5 521.5 L102.5 522.5 L100.5 522.5 M102.5 522.5 L103.5 523.5 L103.5 527.5 L102.5 528.5 L98.5 528.5 M108.5 516.5 L112.5 516.5 L113.5 517.5 L113.5 527.5 L112.5 528.5 L108.5 528.5 L107.5 527.5 L107.5 517.5 L108.5 516.5 M129.5 516.5 L133.5 516.5 L134.5 517.5 L134.5 527.5 L133.5 528.5 L129.5 528.5 L128.5 527.5 L128.5 517.5 L129.5 516.5 M139.5 516.5 L143.5 516.5 L144.5 517.5 L144.5 527.5 L143.5 528.5 L139.5 528.5 L138.5 527.5 L138.5 517.5 L139.5 516.5 M179.5 522.5 L186.5 522.5 M190.5 516.5 L190.5 524.5 L196.5 524.5 M194.5 517.5 L194.5 528.5 M200.5 516.5 L200.5 524.5 L206.5 524.5 M204.5 517.5 L204.5 528.5 M221.5 516.5 L227.5 516.5 L227.5 517.5 L223.5 528.5 M231.5 516.5 L237.5 516.5 L237.5 517.5 L233.5 528.5 M45.5 536.5 L45.5 535.5 L46.5 534.5 L50.5 534.5 L51.5 535.5 L51.5 539.5 L50.5 540.5 L45.5 545.5 L45.5 546.5 L51.5 546.5 M58.5 538.5 L62 541.25 L58.5 544 M87.5 534.5 L87.5 542.5 L93.5 542.5 M91.5 535.5 L91.5 546.5 M98.5 534.5 L102.5 534.5 L103.5 535.5 L103.5 539.5 L102.5 540.5 L100.5 540.5 M102.5 540.5 L103.5 541.5 L103.5 545.5 L102.5 546.5 L98.5 546.5 M109.5 535.9 L110.5 534.9 M110.5 534.5 L110.5 546.5 M109.5 546.5 L112.5 546.5 M129.5 534.5 L133.5 534.5 L134.5 535.5 L134.5 539.5 L133.5 540.5 L131.5 540.5 M133.5 540.5 L134.5 541.5 L134.5 545.5 L133.5 546.5 L129.5 546.5 M139.5 534.5 L143.5 534.5 L144.5 535.5 L144.5 539.5 L143.5 540.5 L144.5 541.5 L144.5 545.5 L143.5 546.5 L139.5 546.5 L138.5 545.5 L138.5 541.5 L139.5 540.5 L138.5 539.5 L138.5 535.5 L139.5 534.5 M139.5 540.5 L143.5 540.5 M179.5 540.5 L186.5 540.5 M196.5 535.5 L195.5 534.5 L191.5 534.5 L190.5 535.5 L190.5 545.5 L191.5 546.5 L195.5 546.5 L196.5 545.5 L196.5 541.5 L195.5 540.5 L190.5 540.5 M201.5 534.5 L205.5 534.5 L206.5 535.5 L206.5 539.5 L205.5 540.5 L203.5 540.5 M205.5 540.5 L206.5 541.5 L206.5 545.5 L205.5 546.5 L201.5 546.5 M222.5 534.5 L226.5 534.5 L227.5 535.5 L227.5 539.5 L226.5 540.5 L227.5 541.5 L227.5 545.5 L226.5 546.5 L222.5 546.5 L221.5 545.5 L221.5 541.5 L222.5 540.5 L221.5 539.5 L221.5 535.5 L222.5 534.5 M222.5 540.5 L226.5 540.5 M231.5 534.5 L237.5 534.5 L237.5 535.5 L233.5 546.5 M46.5 553.5 L50.5 553.5 L51.5 554.5 L51.5 557.5 L50.5 558.5 L48.5 558.5 M50.5 558.5 L51.5 559.5 L51.5 563.5 L50.5 564.5 L46.5 564.5 M87.5 553.5 L87.5 560.5 L93.5 560.5 M91.5 554.5 L91.5 564.5 M98.5 553.5 L102.5 553.5 L103.5 554.5 L103.5 557.5 L102.5 558.5 L100.5 558.5 M102.5 558.5 L103.5 559.5 L103.5 563.5 L102.5 564.5 L98.5 564.5 M108.5 553.5 L112.5 553.5 L113.5 554.5 L113.5 557.5 L112.5 558.5 L113.5 559.5 L113.5 563.5 L112.5 564.5 L108.5 564.5 L107.5 563.5 L107.5 559.5 L108.5 558.5 L107.5 557.5 L107.5 554.5 L108.5 553.5 M108.5 558.5 L112.5 558.5 M128.5 563.5 L129.5 564.5 L133.5 564.5 L134.5 563.5 L134.5 554.5 L133.5 553.5 L129.5 553.5 L128.5 554.5 L128.5 558.5 L129.5 559.5 L134.5 559.5 M139.5 553.5 L143.5 553.5 L144.5 554.5 L144.5 557.5 L143.5 558.5 L144.5 559.5 L144.5 563.5 L143.5 564.5 L139.5 564.5 L138.5 563.5 L138.5 559.5 L139.5 558.5 L138.5 557.5 L138.5 554.5 L139.5 553.5 M139.5 558.5 L143.5 558.5 M190.5 558.5 L196.5 558.5 M202.5 554.9 L203.5 553.9 M203.5 553.5 L203.5 564.5 M202.5 564.5 L205.5 564.5 M221.5 553.5 L221.5 560.5 L227.5 560.5 M225.5 554.5 L225.5 564.5 M237.5 554.5 L236.5 553.5 L232.5 553.5 L231.5 554.5 L231.5 563.5 L232.5 564.5 L236.5 564.5 L237.5 563.5 L237.5 559.5 L236.5 558.5 L231.5 558.5 M45.5 571.5 L45.5 578.5 L51.5 578.5 M49.5 572.5 L49.5 582.5 M87.5 571.5 L87.5 578.5 L93.5 578.5 M91.5 572.5 L91.5 582.5 M97.5 571.5 L97.5 578.5 L103.5 578.5 M101.5 572.5 L101.5 582.5 M108.5 571.5 L112.5 571.5 L113.5 572.5 L113.5 581.5 L112.5 582.5 L108.5 582.5 L107.5 581.5 L107.5 572.5 L108.5 571.5 M129.5 571.5 L133.5 571.5 L134.5 572.5 L134.5 581.5 L133.5 582.5 L129.5 582.5 L128.5 581.5 L128.5 572.5 L129.5 571.5 M139.5 571.5 L143.5 571.5 L144.5 572.5 L144.5 581.5 L143.5 582.5 L139.5 582.5 L138.5 581.5 L138.5 572.5 L139.5 571.5 M190.5 576.5 L196.5 576.5 M202.5 572.9 L203.5 571.9 M203.5 571.5 L203.5 582.5 M202.5 582.5 L205.5 582.5 M222.5 571.5 L226.5 571.5 L227.5 572.5 L227.5 575.5 L226.5 576.5 L224.5 576.5 M226.5 576.5 L227.5 577.5 L227.5 581.5 L226.5 582.5 L222.5 582.5 M237.5 572.5 L236.5 571.5 L232.5 571.5 L231.5 572.5 L231.5 581.5 L232.5 582.5 L236.5 582.5 L237.5 581.5 L237.5 577.5 L236.5 576.5 L231.5 576.5 M331.5 517.9 L332.5 516.9 M332.5 516.5 L332.5 528.5 M331.5 528.5 L334.5 528.5 M370.5 516.5 L370.5 524.5 L376.5 524.5 M374.5 517.5 L374.5 528.5 M381.5 516.5 L386.5 516.5 L387.5 517.5 L387.5 521.5 L386.5 522.5 L384.5 522.5 M386.5 522.5 L387.5 523.5 L387.5 527.5 L386.5 528.5 L381.5 528.5 M392.5 516.5 L396.5 516.5 L397.5 517.5 L397.5 527.5 L396.5 528.5 L392.5 528.5 L391.5 527.5 L391.5 517.5 L392.5 516.5 M412.5 516.5 L417.5 516.5 L418.5 517.5 L418.5 527.5 L417.5 528.5 L412.5 528.5 L411.5 527.5 L411.5 517.5 L412.5 516.5 M423.5 516.5 L427.5 516.5 L428.5 517.5 L428.5 527.5 L427.5 528.5 L423.5 528.5 L422.5 527.5 L422.5 517.5 L423.5 516.5 M485.5 516.5 L489.5 516.5 L490.5 517.5 L490.5 527.5 L489.5 528.5 L485.5 528.5 L484.5 527.5 L484.5 517.5 L485.5 516.5 M505.5 516.5 L510.5 516.5 L511.5 517.5 L511.5 527.5 L510.5 528.5 L505.5 528.5 L504.5 527.5 L504.5 517.5 L505.5 516.5 M515.5 516.5 L521.5 516.5 L521.5 517.5 L517.5 528.5 M329.5 536.5 L329.5 535.5 L330.5 534.5 L334.5 534.5 L335.5 535.5 L335.5 539.5 L334.5 540.5 L329.5 545.5 L329.5 546.5 L335.5 546.5 M370.5 534.5 L370.5 542.5 L376.5 542.5 M374.5 535.5 L374.5 546.5 M381.5 534.5 L386.5 534.5 L387.5 535.5 L387.5 539.5 L386.5 540.5 L384.5 540.5 M386.5 540.5 L387.5 541.5 L387.5 545.5 L386.5 546.5 L381.5 546.5 M393.5 535.9 L394.5 534.9 M394.5 534.5 L394.5 546.5 M393.5 546.5 L396.5 546.5 M412.5 534.5 L417.5 534.5 L418.5 535.5 L418.5 539.5 L417.5 540.5 L415.5 540.5 M417.5 540.5 L418.5 541.5 L418.5 545.5 L417.5 546.5 L412.5 546.5 M423.5 534.5 L427.5 534.5 L428.5 535.5 L428.5 539.5 L427.5 540.5 L428.5 541.5 L428.5 545.5 L427.5 546.5 L423.5 546.5 L422.5 545.5 L422.5 541.5 L423.5 540.5 L422.5 539.5 L422.5 535.5 L423.5 534.5 M423.5 540.5 L427.5 540.5 M473.5 540.5 L480.5 540.5 M485.5 534.5 L489.5 534.5 L490.5 535.5 L490.5 545.5 L489.5 546.5 L485.5 546.5 L484.5 545.5 L484.5 535.5 L485.5 534.5 M504.5 536.5 L504.5 535.5 L505.5 534.5 L510.5 534.5 L511.5 535.5 L511.5 539.5 L510.5 540.5 L504.5 545.5 L504.5 546.5 L511.5 546.5 M521.5 535.5 L520.5 534.5 L516.5 534.5 L515.5 535.5 L515.5 545.5 L516.5 546.5 L520.5 546.5 L521.5 545.5 L521.5 541.5 L520.5 540.5 L515.5 540.5 M330.5 553.5 L334.5 553.5 L335.5 554.5 L335.5 557.5 L334.5 558.5 L332.5 558.5 M334.5 558.5 L335.5 559.5 L335.5 563.5 L334.5 564.5 L330.5 564.5 M341.5 556.5 L345 559.25 L341.5 562 M370.5 553.5 L370.5 560.5 L376.5 560.5 M374.5 554.5 L374.5 564.5 M381.5 553.5 L386.5 553.5 L387.5 554.5 L387.5 557.5 L386.5 558.5 L384.5 558.5 M386.5 558.5 L387.5 559.5 L387.5 563.5 L386.5 564.5 L381.5 564.5 M392.5 553.5 L396.5 553.5 L397.5 554.5 L397.5 557.5 L396.5 558.5 L397.5 559.5 L397.5 563.5 L396.5 564.5 L392.5 564.5 L391.5 563.5 L391.5 559.5 L392.5 558.5 L391.5 557.5 L391.5 554.5 L392.5 553.5 M392.5 558.5 L396.5 558.5 M411.5 563.5 L412.5 564.5 L417.5 564.5 L418.5 563.5 L418.5 554.5 L417.5 553.5 L412.5 553.5 L411.5 554.5 L411.5 558.5 L412.5 559.5 L418.5 559.5 M423.5 553.5 L427.5 553.5 L428.5 554.5 L428.5 557.5 L427.5 558.5 L428.5 559.5 L428.5 563.5 L427.5 564.5 L423.5 564.5 L422.5 563.5 L422.5 559.5 L423.5 558.5 L422.5 557.5 L422.5 554.5 L423.5 553.5 M423.5 558.5 L427.5 558.5 M463.5 558.5 L469.5 558.5 M475.5 554.9 L477.5 553.9 M477.5 553.5 L477.5 564.5 M475.5 564.5 L479.5 564.5 M485.5 553.5 L489.5 553.5 L490.5 554.5 L490.5 557.5 L489.5 558.5 L490.5 559.5 L490.5 563.5 L489.5 564.5 L485.5 564.5 L484.5 563.5 L484.5 559.5 L485.5 558.5 L484.5 557.5 L484.5 554.5 L485.5 553.5 M485.5 558.5 L489.5 558.5 M505.5 553.5 L510.5 553.5 L511.5 554.5 L511.5 563.5 L510.5 564.5 L505.5 564.5 L504.5 563.5 L504.5 554.5 L505.5 553.5 M516.5 553.5 L520.5 553.5 L521.5 554.5 L521.5 557.5 L520.5 558.5 L518.5 558.5 M520.5 558.5 L521.5 559.5 L521.5 563.5 L520.5 564.5 L516.5 564.5 M329.5 571.5 L329.5 578.5 L335.5 578.5 M333.5 572.5 L333.5 582.5 M370.5 571.5 L370.5 578.5 L376.5 578.5 M374.5 572.5 L374.5 582.5 M380.5 571.5 L380.5 578.5 L387.5 578.5 M385.5 572.5 L385.5 582.5 M392.5 571.5 L396.5 571.5 L397.5 572.5 L397.5 581.5 L396.5 582.5 L392.5 582.5 L391.5 581.5 L391.5 572.5 L392.5 571.5 M412.5 571.5 L417.5 571.5 L418.5 572.5 L418.5 581.5 L417.5 582.5 L412.5 582.5 L411.5 581.5 L411.5 572.5 L412.5 571.5 M423.5 571.5 L427.5 571.5 L428.5 572.5 L428.5 581.5 L427.5 582.5 L423.5 582.5 L422.5 581.5 L422.5 572.5 L423.5 571.5 M463.5 576.5 L469.5 576.5 M475.5 572.9 L477.5 571.9 M477.5 571.5 L477.5 582.5 M475.5 582.5 L479.5 582.5 M485.5 571.5 L489.5 571.5 L490.5 572.5 L490.5 575.5 L489.5 576.5 L487.5 576.5 M489.5 576.5 L490.5 577.5 L490.5 581.5 L489.5 582.5 L485.5 582.5 M504.5 571.5 L511.5 571.5 L511.5 572.5 L506.5 582.5 M515.5 571.5 L521.5 571.5 L521.5 572.5 L517.5 582.5 M184.5 156.9 L185.5 155.9 M185.5 155.5 L185.5 165.5 M222.5 145.5 L222.5 144.5 L223.5 143.5 L227.5 143.5 L228.5 144.5 L228.5 146.5 L227.5 147.5 L222.5 152.5 L222.5 153.5 L228.5 153.5 M438.5 65.5 L443.5 65.5 L444.5 66.5 L444.5 68.5 L443.5 69.5 L441.5 69.5 M443.5 69.5 L444.5 70.5 L444.5 74.5 L443.5 75.5 L438.5 75.5 M466.5 65.5 L466.5 71.5 L473.5 71.5 M471.5 66.5 L471.5 75.5 M184.5 289.9 L185.5 288.9 M185.5 288.5 L185.5 298.5 M222.5 292.5 L222.5 291.5 L223.5 290.5 L227.5 290.5 L228.5 291.5 L228.5 293.5 L227.5 294.5 L222.5 299.5 L222.5 300.5 L228.5 300.5 M438.5 311.5 L443.5 311.5 L444.5 312.5 L444.5 315.5 L443.5 316.5 L441.5 316.5 M443.5 316.5 L444.5 317.5 L444.5 321.5 L443.5 322.5 L438.5 322.5 M466.5 345.5 L466.5 351.5 L472.5 351.5 M470.5 346.5 L470.5 355.5"/>
<path class="z" d="M343.1 15.9 L347.9 6.1 M363.1 15.9 L368.9 6.1 M494.1 15.9 L498.9 6.1 M515.1 15.9 L519.9 6.1 M525.1 15.9 L529.9 6.1 M303.1 36.9 L307.9 26.1 M33.1 68.9 L38.9 58.1 M33.1 88.9 L38.9 79.1 M33.1 109.9 L38.9 99.1 M33.1 129.9 L38.9 120.1 M33.1 150.9 L38.9 140.1 M33.1 170.9 L38.9 161.1 M33.1 191.9 L38.9 181.1 M148.1 242.9 L152.9 233.1 M158.1 242.9 L163.9 233.1 M169.1 242.9 L173.9 233.1 M550.1 242.9 L555.9 233.1 M561.1 242.9 L565.9 233.1 M571.1 242.9 L575.9 233.1 M363.1 262.9 L368.9 252.1 M494.1 262.9 L498.9 252.1 M515.1 262.9 L519.9 252.1 M525.1 262.9 L529.9 252.1 M544.1 303.9 L548.9 294.1 M33.1 314.9 L38.9 305.1 M33.1 355.9 L38.9 345.1 M33.1 396.9 L38.9 386.1 M33.1 437.9 L38.9 427.1 M148.1 489.9 L152.9 479.1 M158.1 489.9 L163.9 479.1 M169.1 489.9 L173.9 479.1 M550.1 489.9 L555.9 479.1 M561.1 489.9 L565.9 479.1 M571.1 489.9 L575.9 479.1 M108.1 527.9 L112.9 517.1 M129.1 527.9 L133.9 517.1 M139.1 527.9 L143.9 517.1 M108.1 581.9 L112.9 572.1 M129.1 581.9 L133.9 572.1 M139.1 581.9 L143.9 572.1 M392.1 527.9 L396.9 517.1 M412.1 527.9 L417.9 517.1 M423.1 527.9 L427.9 517.1 M485.1 527.9 L489.9 517.1 M505.1 527.9 L510.9 517.1 M485.1 545.9 L489.9 535.1 M505.1 563.9 L510.9 554.1 M392.1 581.9 L396.9 572.1 M412.1 581.9 L417.9 572.1 M423.1 581.9 L427.9 572.1"/>
<g class="f"><rect x="64.7" y="7" width="2.2" height="2.6"/><rect x="64.7" y="14.2" width="2.2" height="2.6"/><rect x="138.5" y="5.6" width="2" height="2"/><rect x="169.5" y="5.6" width="2" height="2"/><rect x="354" y="14" width="2.1" height="3"/><rect x="505" y="14" width="2.1" height="3"/><rect x="66.5" y="25.6" width="2" height="2"/><rect x="433.7" y="27" width="2.2" height="2.6"/><rect x="433.7" y="35.2" width="2.2" height="2.6"/><rect x="538" y="35" width="2.1" height="3"/><rect x="535" y="55" width="2.1" height="3"/><rect x="139" y="241" width="2.1" height="3"/><rect x="541" y="241" width="2.1" height="3"/><rect x="64.7" y="253" width="2.2" height="2.6"/><rect x="64.7" y="261.2" width="2.2" height="2.6"/><rect x="149.5" y="251.6" width="2" height="2"/><rect x="354" y="261" width="2.1" height="3"/><rect x="505" y="261" width="2.1" height="3"/><rect x="433.7" y="274" width="2.2" height="2.6"/><rect x="433.7" y="281.2" width="2.2" height="2.6"/><rect x="538" y="281" width="2.1" height="3"/><rect x="535" y="302" width="2.1" height="3"/><rect x="139" y="488" width="2.1" height="3"/><rect x="541" y="488" width="2.1" height="3"/><rect x="56.7" y="500" width="2.2" height="2.6"/><rect x="56.7" y="507.2" width="2.2" height="2.6"/><rect x="339.7" y="500" width="2.2" height="2.6"/><rect x="339.7" y="507.2" width="2.2" height="2.6"/><rect x="56.7" y="518" width="2.2" height="2.6"/><rect x="56.7" y="526.2" width="2.2" height="2.6"/><rect x="120" y="526" width="2.1" height="3"/><rect x="212" y="526" width="2.1" height="3"/><rect x="120" y="544" width="2.1" height="3"/><rect x="212" y="544" width="2.1" height="3"/><rect x="56.7" y="555" width="2.2" height="2.6"/><rect x="56.7" y="562.2" width="2.2" height="2.6"/><rect x="120" y="562" width="2.1" height="3"/><rect x="212" y="562" width="2.1" height="3"/><rect x="56.7" y="573" width="2.2" height="2.6"/><rect x="56.7" y="580.2" width="2.2" height="2.6"/><rect x="120" y="580" width="2.1" height="3"/><rect x="212" y="580" width="2.1" height="3"/><rect x="339.7" y="518" width="2.2" height="2.6"/><rect x="339.7" y="526.2" width="2.2" height="2.6"/><rect x="403" y="526" width="2.1" height="3"/><rect x="496" y="526" width="2.1" height="3"/><rect x="339.7" y="536" width="2.2" height="2.6"/><rect x="339.7" y="544.2" width="2.2" height="2.6"/><rect x="403" y="544" width="2.1" height="3"/><rect x="496" y="544" width="2.1" height="3"/><rect x="403" y="562" width="2.1" height="3"/><rect x="496" y="562" width="2.1" height="3"/><rect x="339.7" y="573" width="2.2" height="2.6"/><rect x="339.7" y="580.2" width="2.2" height="2.6"/><rect x="403" y="580" width="2.1" height="3"/><rect x="496" y="580" width="2.1" height="3"/></g>
<g class="x"><text x="53.8" y="16.5">1:Transmission</text><text x="243.3" y="16.5">Log Mag</text><text x="331.5" y="16.5">10.0 dB/</text><text x="431" y="16.5">Ref</text><text x="493.1" y="16.5">0.00 dB</text><text x="589.7" y="16.5">C</text><text x="54" y="36.5">Filtr dupleksowy RADMOR 05113</text><text x="402" y="36.5">Ch1:Mkr2</text><text x="505.2" y="36.5">431.375 MHz</text><text x="502.3" y="57.5">-63.87 dB</text><text x="614.2" y="54.5">1</text><text x="1.3" y="51.5">dB</text><text x="12" y="68.5">-10</text><text x="12" y="89.5">-20</text><text x="12" y="109.5">-30</text><text x="12" y="130.5">-40</text><text x="12" y="150.5">-50</text><text x="12" y="171.5">-60</text><text x="12" y="191.5">-70</text><text x="1.3" y="213.5">Abs</text><text x="43.9" y="243.5">Start 425.000 MHz</text><text x="456.5" y="243.5">Stop 445.000 MHz</text><text x="53.75" y="262.5">2:Reflection</text><text x="243" y="262.5">Log Mag</text><text x="331.7" y="262.5"> 5.0 dB/</text><text x="431" y="262.5">Ref</text><text x="493.2" y="262.5">0.00 dB</text><text x="590" y="262.5">C</text><text x="54.2" y="283.5">Tx-&gt;Antena</text><text x="402" y="283.5">Ch2:Mkr3</text><text x="505" y="283.5">438.975 MHz</text><text x="502.2" y="304.5">-18.03 dB</text><text x="614.5" y="288.5">2</text><text x="1.3" y="297.5">dB</text><text x="12" y="315.5">-10</text><text x="12" y="335.5">-15</text><text x="12" y="355.5">-20</text><text x="12" y="376.5">-25</text><text x="12" y="396.5">-30</text><text x="12" y="417.5">-35</text><text x="12" y="437.5">-40</text><text x="1.3" y="460.5">Abs</text><text x="43.9" y="489.5">Start 425.000 MHz</text><text x="456.5" y="489.5">Stop 445.000 MHz</text><text x="45.4" y="509.5">1:Mkr (MHz)</text><text x="200.35" y="509.5">dB</text><text x="328.9" y="509.5">2:Mkr (MHz)</text><text x="483.85" y="509.5">dB</text><text x="45.4" y="527.5">1:</text><text x="86.72" y="527.5">430.00</text><text x="179.69" y="527.5">-44.77</text><text x="45.4" y="545.5">2&gt;</text><text x="86.72" y="545.5">431.38</text><text x="179.69" y="545.5">-63.87</text><text x="45.4" y="564.5">3:</text><text x="86.72" y="564.5">438.98</text><text x="190.02" y="564.5">-1.46</text><text x="45.4" y="582.5">4:</text><text x="86.72" y="582.5">440.00</text><text x="190.02" y="582.5">-1.36</text><text x="328.9" y="527.5">1:</text><text x="370.22" y="527.5">430.00</text><text x="483.85" y="527.5">0.07</text><text x="328.9" y="545.5">2:</text><text x="370.22" y="545.5">431.38</text><text x="473.52" y="545.5">-0.26</text><text x="328.9" y="564.5">3&gt;</text><text x="370.22" y="564.5">438.98</text><text x="463.19" y="564.5">-18.03</text><text x="328.9" y="582.5">4:</text><text x="370.22" y="582.5">440.00</text><text x="463.19" y="582.5">-13.77</text><text x="182.25" y="166.5">1</text><text x="221.7" y="154.5">2</text><text x="437.5" y="76.5">3</text><text x="466.5" y="76.5">4</text><text x="182.25" y="299.5">1</text><text x="221.7" y="301.5">2</text><text x="437.5" y="322.5">3</text><text x="466.25" y="356.5">4</text></g>
</svg>
</body></html>
